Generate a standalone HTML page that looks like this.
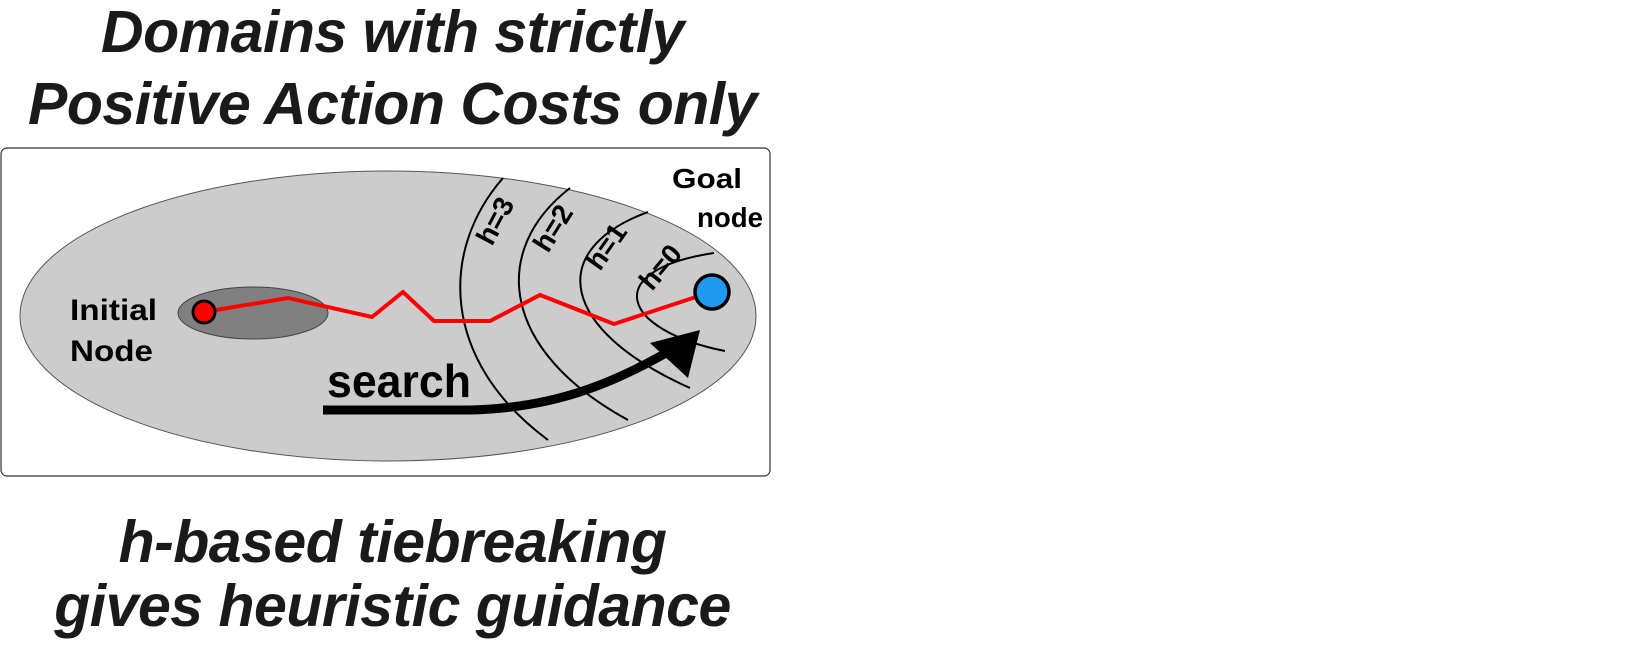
<!DOCTYPE html>
<html><head><meta charset="utf-8"><style>
body{margin:0;background:#fff;width:1628px;height:656px;overflow:hidden;font-family:"Liberation Sans",sans-serif}
.t{position:absolute;left:0;width:785px;text-align:center;font-weight:bold;font-style:italic;font-size:59px;color:#1a1a1a;line-height:72px;letter-spacing:-0.5px}
</style></head><body>
<div class="t" style="top:-4px">Domains with strictly<br>Positive Action Costs only</div>
<svg width="1628" height="656" style="position:absolute;left:0;top:0">
<rect x="1" y="148" width="769" height="328" rx="6" fill="#fff" stroke="#333" stroke-width="1.2"/>
<ellipse cx="388" cy="316" rx="368" ry="145" fill="#cccccc" stroke="#555" stroke-width="1"/>
<ellipse cx="253" cy="313" rx="75" ry="26" fill="#808080" stroke="#444" stroke-width="1"/>
<g fill="none" stroke="#000" stroke-width="2">
<path d="M503,178 C440,250 440,360 548,440"/>
<path d="M570,188 C490,250 500,350 628,420"/>
<path d="M648,212 C545,250 560,330 690,388"/>
<path d="M714,253 C600,270 620,330 725,351"/>
</g>
<polyline points="204,312 288,298 372,317 403,292 434,321 490,321 540,295 614,324 711,292" fill="none" stroke="#ff0000" stroke-width="4"/>
<circle cx="204" cy="312" r="11" fill="#ff0000" stroke="#000" stroke-width="3"/>
<circle cx="712" cy="292" r="17" fill="#1e9bf0" stroke="#000" stroke-width="3.5"/>
<path d="M323,410 L470,410 C560,408 620,380 680,345" fill="none" stroke="#000" stroke-width="9"/>
<polygon points="700,330 650,343 688,378" fill="#000"/>
<g font-weight="bold" font-size="30" fill="#000">
<text x="70" y="320" textLength="87" lengthAdjust="spacingAndGlyphs">Initial</text>
<text x="70" y="361" textLength="83" lengthAdjust="spacingAndGlyphs">Node</text>
<text x="672" y="188" font-size="28" textLength="70" lengthAdjust="spacingAndGlyphs">Goal</text>
<text x="697" y="227" font-size="28" textLength="66" lengthAdjust="spacingAndGlyphs">node</text>
<text x="327" y="397" font-size="46" textLength="144" lengthAdjust="spacingAndGlyphs">search</text>
<text transform="translate(492,247) rotate(-62)" font-size="28">h=3</text>
<text transform="translate(548,254) rotate(-58)" font-size="28">h=2</text>
<text transform="translate(600,272) rotate(-55)" font-size="28">h=1</text>
<text transform="translate(652,292) rotate(-50)" font-size="28">h=0</text>
</g>
</svg>
<div class="t" style="top:510px;line-height:64px">h-based tiebreaking<br>gives heuristic guidance</div>
</body></html>
